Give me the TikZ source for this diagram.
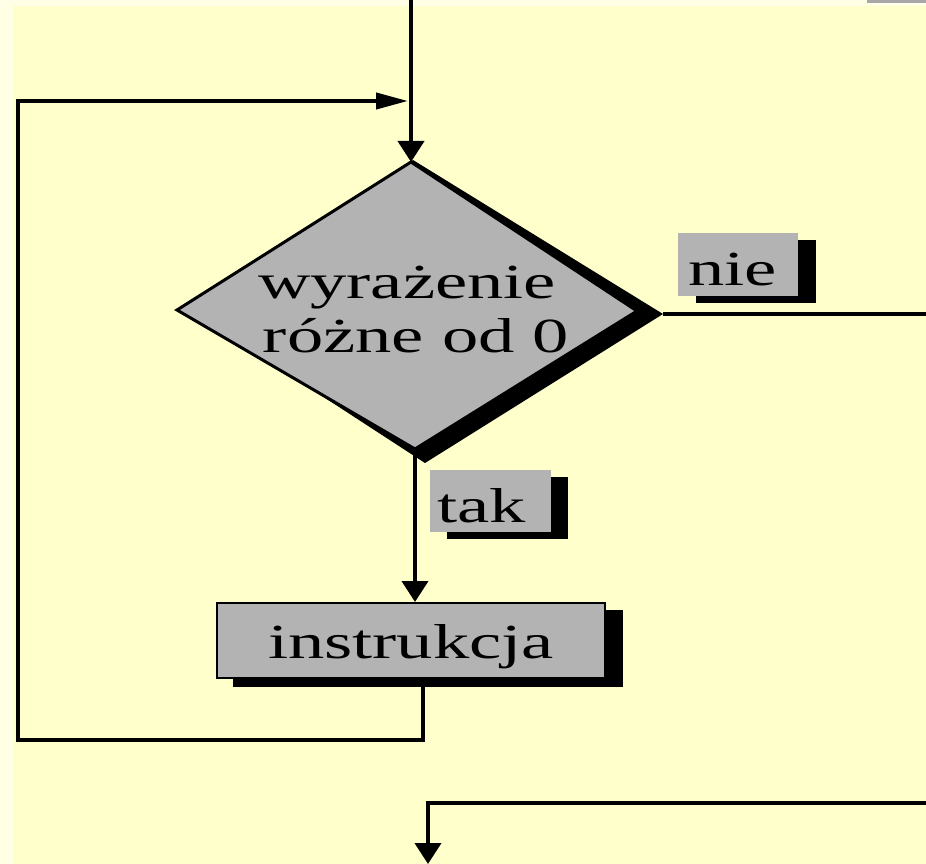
\documentclass[tikz,border=0pt]{standalone}
\usepackage{fontspec}
\setmainfont{Liberation Serif}
\usetikzlibrary{arrows.meta,backgrounds}
\definecolor{paper}{HTML}{FFFFCC}
\definecolor{paperedge}{HTML}{FFFFE6}
\definecolor{boxgray}{HTML}{B3B3B3}
\definecolor{bargray}{HTML}{A8A8A8}
% wide lettering used throughout the chart
\newcommand{\widetext}[1]{\scalebox{1.48}[1]{#1}}

\begin{document}
\begin{tikzpicture}[x=1pt,y=-1pt,line join=miter,
  flow/.style={line width=4pt},
  vtip/.style={-{Triangle[length=21pt,width=26pt]}},
  htip/.style={-{Triangle[length=32pt,width=16pt]}},
  bigfont/.style={font=\fontsize{49pt}{54pt}\selectfont},
  tagbox/.style={bigfont,fill=boxgray,inner ysep=0pt,align=left,text depth=0pt},
  procbox/.style={bigfont,fill=boxgray,draw=black,line width=2pt,inner sep=0pt,
                  minimum width=388pt,minimum height=75pt,text height=40pt,text depth=5pt},
  condtext/.style={bigfont,inner sep=0pt,anchor=base},
  shadowfill/.style={fill=black}]

\useasboundingbox (0,0) rectangle (926,864);

% paper
\begin{scope}[on background layer]
  \fill[paper] (0,0) rectangle (926,864);
  \fill[paperedge] (0,0) rectangle (13,864);
  \fill[paperedge] (0,0) rectangle (926,6);
  \fill[bargray] (867,0) rectangle (926,3);
\end{scope}

% decision diamond with its shadow
\coordinate (dtop) at (411,162);
\coordinate (dright) at (637,311);
\coordinate (dbot) at (415,449);
\coordinate (dleft) at (177,310);
\coordinate (sdtop) at (413,160);
\coordinate (sdright) at (663,314);
\coordinate (sdbot) at (425,463);
\coordinate (sdleft) at (190,310);
\fill[shadowfill] (sdtop) -- (sdright) -- (sdbot) -- (sdleft) -- cycle;
\filldraw[fill=boxgray,draw=black,line width=3pt] (dtop) -- (dright) -- (dbot) -- (dleft) -- cycle;
\node[condtext] (cond1) at (407,298) {\widetext{wyrażenie}};
\node[condtext] (cond2) at (416,352) {\widetext{różne od 0}};

% answer tags and the statement box
\node[tagbox,inner xsep=10pt,text width=100pt,minimum height=63pt,text height=41pt] (nie) at (738,264.5) {\widetext{nie}};
\node[tagbox,inner xsep=7pt,text width=107pt,minimum height=62pt,text height=42pt] (tak) at (490.5,501) {\widetext{tak}};
\node[procbox] (instr) at (411,640.5) {\widetext{instrukcja}};

\begin{scope}[on background layer]
  \fill[shadowfill] ([shift={(18,7)}]nie.north west) rectangle ([shift={(18,7)}]nie.south east);
  \fill[shadowfill] ([shift={(17,7)}]tak.north west) rectangle ([shift={(17,7)}]tak.south east);
  \fill[shadowfill] ([shift={(17,8)}]instr.north west) rectangle ([shift={(17,8)}]instr.south east);
\end{scope}

% connectors
\coordinate (entry) at (411,-5);
\coordinate (merge) at (408,101);
\coordinate (loopdown) at (423,740);
\coordinate (loopleft) at (18,740);
\coordinate (loopup) at (18,101);
\coordinate (noend) at (932,314);
\coordinate (backin) at (932,803);
\coordinate (backturn) at (428,803);
\coordinate (exit) at (428,864);

\draw[flow,vtip] (entry) -- (dtop);
\draw[flow,htip] (instr.south -| loopdown) -- (loopdown) -- (loopleft) -- (loopup) -- (merge);
\draw[flow,vtip] (dbot) -- (dbot |- instr.north);
\draw[flow] (sdright) -- (noend);
\draw[flow,vtip] (backin) -- (backturn) -- (exit);
\end{tikzpicture}
\end{document}
